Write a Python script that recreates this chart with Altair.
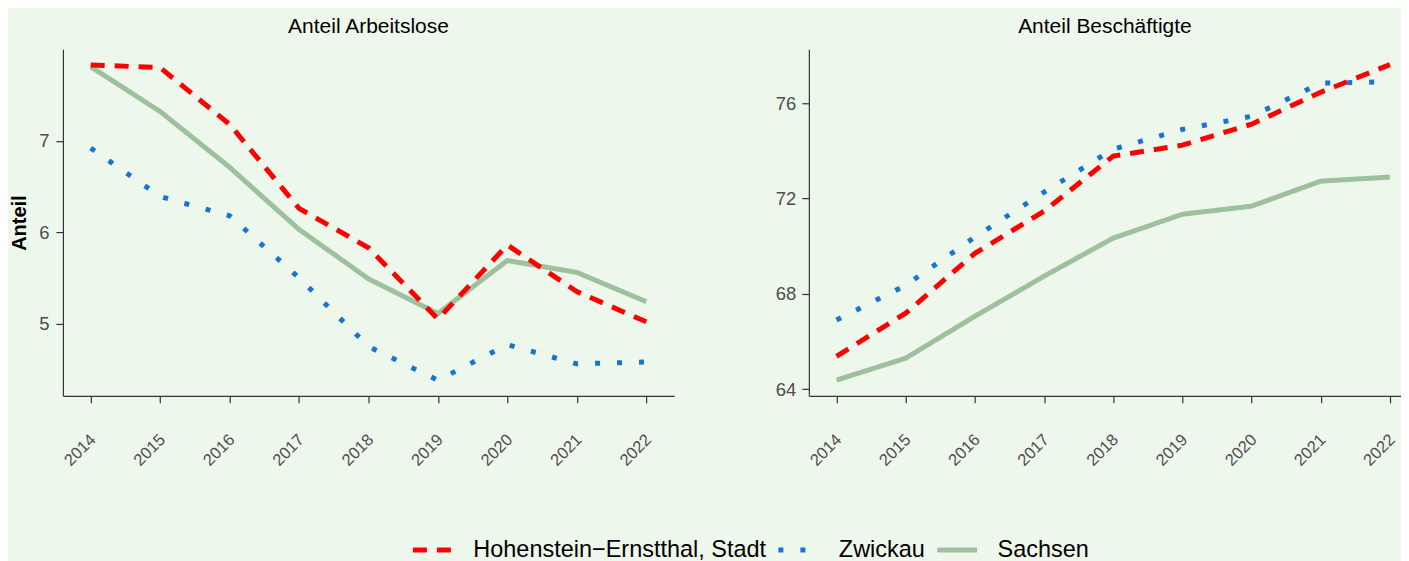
import altair as alt
import pandas as pd

years = [2014, 2015, 2016, 2017, 2018, 2019, 2020, 2021, 2022]
regions = ["Hohenstein−Ernstthal, Stadt", "Zwickau", "Sachsen"]
colors = ["#FF0000", "#1874CD", "#9CC19C"]
dashes = [[14, 10], [5, 17], [1, 0]]

alo_hohenstein = [7.83, 7.80, 7.18, 6.26, 5.83, 5.05, 5.86, 5.35, 5.02]
alo_zwickau = [6.92, 6.39, 6.18, 5.50, 4.75, 4.38, 4.77, 4.56, 4.58]
alo_sachsen = [7.81, 7.32, 6.71, 6.03, 5.49, 5.11, 5.69, 5.56, 5.24]

bes_hohenstein = [65.38, 67.19, 69.70, 71.47, 73.78, 74.24, 75.12, 76.46, 77.62]
bes_zwickau = [66.90, 68.36, 70.38, 72.27, 74.07, 74.90, 75.45, 76.84, 76.90]
bes_sachsen = [64.38, 65.30, 67.06, 68.74, 70.34, 71.34, 71.68, 72.73, 72.90]

alo_ticks = [5, 6, 7]
bes_ticks = [64, 68, 72, 76]

FONT = "Liberation Sans"


def make_df(series):
    rows = []
    # draw order: Sachsen, Zwickau, Hohenstein on top
    for reg, vals in [(regions[2], series[2]), (regions[1], series[1]), (regions[0], series[0])]:
        for y, v in zip(years, vals):
            rows.append({"Jahr": y, "Wert": v, "Region": reg})
    return pd.DataFrame(rows)


df_alo = make_df([alo_hohenstein, alo_zwickau, alo_sachsen])
df_bes = make_df([bes_hohenstein, bes_zwickau, bes_sachsen])

legend = alt.Legend(
    title=None,
    orient="none",
    legendX=348,
    legendY=479,
    direction="horizontal",
    symbolType="stroke",
    symbolSize=1600,
    symbolStrokeWidth=5,
    labelFontSize=23.5,
    labelFont=FONT,
    labelColor="#000000",
    labelOffset=18,
    labelLimit=600,
    columnPadding=1,
)


def panel(df, title, ydomain, yticks, xdomain, width, ytitle, extent, lpad):
    return alt.Chart(df).mark_line(clip=True, strokeWidth=5, strokeCap="butt").encode(
        x=alt.X(
            "Jahr:Q",
            scale=alt.Scale(domain=xdomain, nice=False, zero=False),
            axis=alt.Axis(values=years, format="d", labelAngle=-45, labelAlign="right",
                          labelBaseline="middle", labelPadding=34, labelOffset=2,
                          labelFontSize=16.5),
            title=None,
        ),
        y=alt.Y(
            "Wert:Q",
            scale=alt.Scale(domain=ydomain, nice=False, zero=False),
            axis=alt.Axis(values=yticks, minExtent=extent, maxExtent=extent, labelPadding=lpad,
                          labelFontSize=18.5,
                          titlePadding=8, titleFontSize=20, titleFontWeight="bold",
                          titleColor="#000000", titleFont=FONT),
            title=ytitle,
        ),
        color=alt.Color("Region:N", scale=alt.Scale(domain=regions, range=colors),
                        sort=regions, legend=legend),
        strokeDash=alt.StrokeDash("Region:N", scale=alt.Scale(domain=regions, range=dashes),
                                  sort=regions, legend=legend),
        detail="Region:N",
    ).properties(
        width=width,
        height=347,
        title=alt.TitleParams(title, fontSize=21, fontWeight="normal", font=FONT,
                              color="#000000", anchor="middle", offset=12),
    )


left = panel(df_alo, "Anteil Arbeitslose", [4.21, 8.0], alo_ticks, [2013.6, 2022.4], 612,
             "Anteil", 25, 7)
right = panel(df_bes, "Anteil Beschäftigte", [63.72, 78.26], bes_ticks, [2013.6, 2022.16], 593,
              None, 34, 6)

chart = alt.hconcat(left, right, spacing=101).resolve_scale(
    x="independent", y="independent", color="shared", strokeDash="shared"
).resolve_legend(color="shared", strokeDash="shared").properties(
    padding={"left": 2, "top": 8, "right": 0, "bottom": 0},
    background="#EEF7EC",
).configure_view(stroke=None).configure_axis(
    grid=False,
    domainColor="#333333",
    domainWidth=1.2,
    tickColor="#333333",
    tickWidth=1.2,
    tickSize=7,
    labelColor="#4D4D4D",
    labelFont=FONT,
)

chart.save("out.html", embed_options={"renderer": "svg", "actions": False})
